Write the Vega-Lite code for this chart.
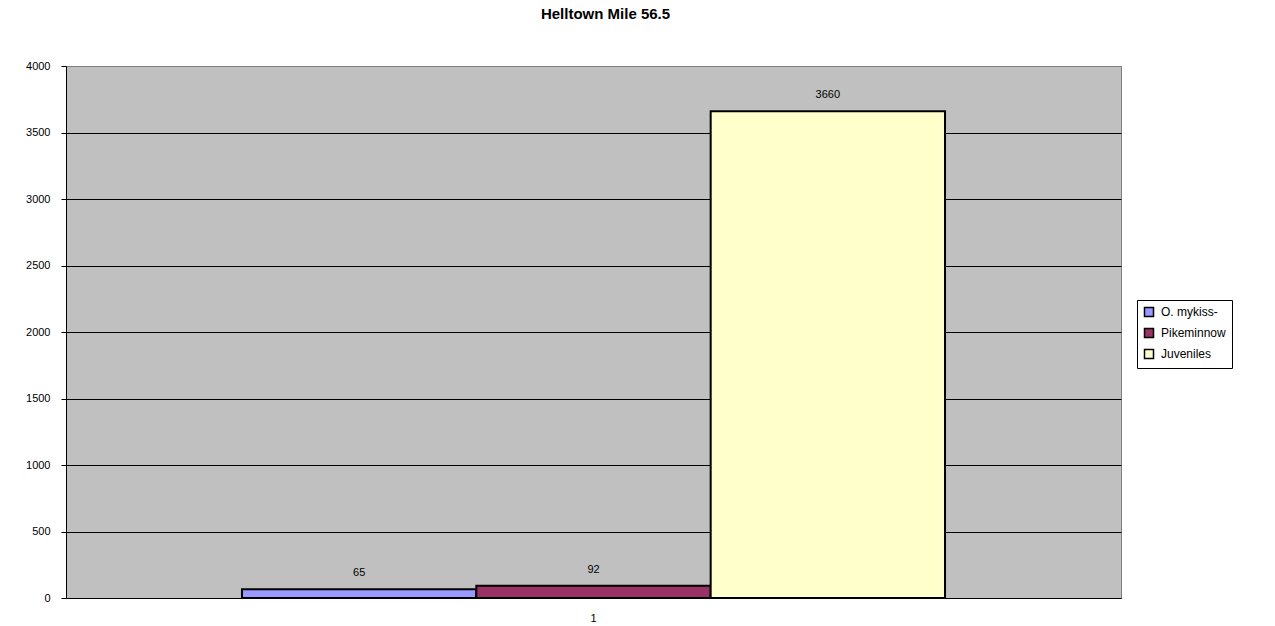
{
  "$schema": "https://vega.github.io/schema/vega-lite/v6.json",
  "autosize": {"type": "none"},
  "padding": {"left": 66, "top": 66, "right": 154, "bottom": 28},
  "width": 1055,
  "height": 532,
  "background": "white",
  "title": {
    "text": "Helltown Mile 56.5",
    "font": "Liberation Sans",
    "fontSize": 15,
    "fontWeight": "bold",
    "color": "black",
    "anchor": "middle",
    "dx": 12,
    "offset": 38
  },
  "config": {
    "view": {"fill": "#C0C0C0", "stroke": "#808080", "strokeWidth": 1},
    "font": "Liberation Sans"
  },
  "data": {
    "values": [
      {"cat": "1", "series": "O. mykiss-", "count": 65},
      {"cat": "1", "series": "Pikeminnow", "count": 92},
      {"cat": "1", "series": "Juveniles", "count": 3660}
    ]
  },
  "encoding": {
    "x": {
      "field": "cat",
      "type": "nominal",
      "scale": {"paddingInner": 0, "paddingOuter": 0.2503},
      "axis": {
        "title": null,
        "labelAngle": 0,
        "labelFontSize": 11,
        "labelColor": "black",
        "labelPadding": 14,
        "ticks": false,
        "domainColor": "black",
        "domainWidth": 1
      }
    },
    "xOffset": {
      "field": "series",
      "type": "nominal",
      "sort": ["O. mykiss-", "Pikeminnow", "Juveniles"],
      "scale": {"paddingInner": 0, "paddingOuter": 0}
    },
    "y": {
      "field": "count",
      "type": "quantitative",
      "scale": {"domain": [0, 4000], "nice": false},
      "axis": {
        "title": null,
        "format": "d",
        "values": [0, 500, 1000, 1500, 2000, 2500, 3000, 3500, 4000],
        "labelFontSize": 11,
        "labelColor": "black",
        "labelPadding": 11,
        "tickSize": 5,
        "tickColor": "black",
        "domainColor": "black",
        "grid": true,
        "gridColor": {"condition": {"test": "datum.value == 4000", "value": "#808080"}, "value": "black"},
        "gridOpacity": 1,
        "gridWidth": 1
      }
    }
  },
  "layer": [
    {
      "mark": {"type": "bar", "stroke": "black", "strokeWidth": 2, "strokeJoin": "miter"},
      "encoding": {
        "color": {
          "field": "series",
          "type": "nominal",
          "sort": ["O. mykiss-", "Pikeminnow", "Juveniles"],
          "scale": {
            "domain": ["O. mykiss-", "Pikeminnow", "Juveniles"],
            "range": ["#9999FF", "#993366", "#FFFFCC"]
          },
          "legend": {
            "title": null,
            "orient": "none",
            "legendX": 1071,
            "legendY": 234,
            "direction": "vertical",
            "fillColor": "white",
            "strokeColor": "black",
            "padding": 6,
            "labelFontSize": 12,
            "labelColor": "black",
            "labelFont": "Liberation Sans",
            "labelOffset": 6,
            "labelExpr": "datum.label + '\u00a0\u00a0\u00a0\u00a0'",
            "rowPadding": 5,
            "symbolType": "square",
            "symbolSize": 81,
            "symbolStrokeColor": "black",
            "symbolStrokeWidth": 1.5,
            "symbolOpacity": 1,
            "labelLimit": 200
          }
        }
      }
    },
    {
      "mark": {
        "type": "text",
        "baseline": "bottom",
        "dy": -11,
        "fontSize": 11,
        "color": "black",
        "font": "Liberation Sans"
      },
      "encoding": {
        "text": {"field": "count", "type": "quantitative"}
      }
    }
  ]
}
